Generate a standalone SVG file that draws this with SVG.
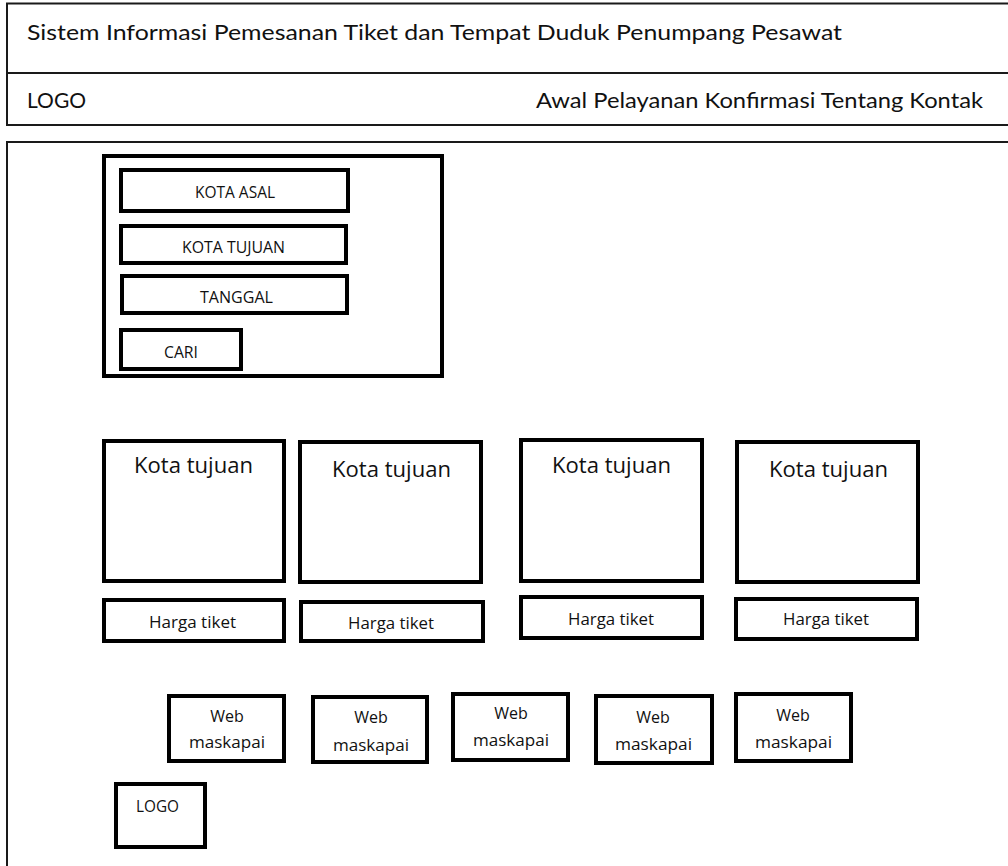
<svg xmlns="http://www.w3.org/2000/svg" width="1008" height="866" viewBox="0 0 1008 866">
  <style>
    .frame { fill: #fff; stroke: #1a1a1a; stroke-width: 2; }
    .box { fill: #fff; stroke: #000; stroke-width: 4; }
    .hdr { font-family: Lato, "Liberation Sans", sans-serif; font-size: 21px; fill: #111; }
    .lbl { font-family: "Open Sans", "Liberation Sans", sans-serif; fill: #111; }
    .small { font-size: 15.5px; }
    .mid { font-size: 16px; }
    .big { font-size: 21px; }
  </style>
  <rect width="1008" height="866" fill="#fff"/>

  <!-- page header -->
  <g id="header">
    <rect class="frame" x="7" y="3.5" width="1010" height="69.5"/>
    <rect class="frame" x="7" y="73" width="1010" height="52"/>
    <text class="hdr" x="27" y="40" textLength="815" lengthAdjust="spacingAndGlyphs">Sistem Informasi Pemesanan Tiket dan Tempat Duduk Penumpang Pesawat</text>
    <text class="hdr" x="27" y="108">LOGO</text>
    <text class="hdr" x="536" y="108" textLength="447" lengthAdjust="spacingAndGlyphs">Awal Pelayanan Konfirmasi Tentang Kontak</text>
  </g>

  <!-- main content frame -->
  <g id="content">
    <rect class="frame" x="7" y="142" width="1010" height="740"/>
  </g>

  <!-- search form -->
  <g id="search-form">
    <rect class="box" x="104" y="156" width="338" height="220"/>
  </g>
  <g id="kota-asal">
    <rect class="box" x="121" y="170" width="227" height="41"/>
    <text class="lbl small" x="195" y="198" textLength="80" lengthAdjust="spacingAndGlyphs">KOTA ASAL</text>
  </g>
  <g id="kota-tujuan">
    <rect class="box" x="121" y="226" width="225" height="37"/>
    <text class="lbl small" x="182" y="253" textLength="103" lengthAdjust="spacingAndGlyphs">KOTA TUJUAN</text>
  </g>
  <g id="tanggal">
    <rect class="box" x="122" y="276" width="225" height="37"/>
    <text class="lbl small" x="200" y="303" textLength="73" lengthAdjust="spacingAndGlyphs">TANGGAL</text>
  </g>
  <g id="cari">
    <rect class="box" x="121" y="330" width="120" height="39"/>
    <text class="lbl small" x="164" y="358" textLength="34" lengthAdjust="spacingAndGlyphs">CARI</text>
  </g>

  <!-- destination cards -->
  <g id="tujuan-1">
    <rect class="box" x="104" y="441" width="180" height="140"/>
    <text class="lbl big" x="134" y="473" textLength="119" lengthAdjust="spacingAndGlyphs">Kota tujuan</text>
  </g>
  <g id="tujuan-2">
    <rect class="box" x="300" y="442" width="181" height="140"/>
    <text class="lbl big" x="332" y="477" textLength="119" lengthAdjust="spacingAndGlyphs">Kota tujuan</text>
  </g>
  <g id="tujuan-3">
    <rect class="box" x="521" y="440" width="181" height="141"/>
    <text class="lbl big" x="552" y="473" textLength="119" lengthAdjust="spacingAndGlyphs">Kota tujuan</text>
  </g>
  <g id="tujuan-4">
    <rect class="box" x="737" y="442" width="181" height="140"/>
    <text class="lbl big" x="769" y="477" textLength="119" lengthAdjust="spacingAndGlyphs">Kota tujuan</text>
  </g>

  <!-- ticket prices -->
  <g id="harga-1">
    <rect class="box" x="104" y="600" width="180" height="41"/>
    <text class="lbl mid" x="149" y="628" textLength="87" lengthAdjust="spacingAndGlyphs">Harga tiket</text>
  </g>
  <g id="harga-2">
    <rect class="box" x="301" y="602" width="182" height="39"/>
    <text class="lbl mid" x="348" y="629" textLength="86" lengthAdjust="spacingAndGlyphs">Harga tiket</text>
  </g>
  <g id="harga-3">
    <rect class="box" x="521" y="597" width="181" height="41"/>
    <text class="lbl mid" x="568" y="625" textLength="86" lengthAdjust="spacingAndGlyphs">Harga tiket</text>
  </g>
  <g id="harga-4">
    <rect class="box" x="736" y="599" width="181" height="40"/>
    <text class="lbl mid" x="783" y="625" textLength="86" lengthAdjust="spacingAndGlyphs">Harga tiket</text>
  </g>

  <!-- airline links -->
  <g id="web-1">
    <rect class="box" x="169" y="696" width="115" height="65"/>
    <text class="lbl mid" x="227" y="722" text-anchor="middle">Web</text>
    <text class="lbl mid" x="189" y="748" textLength="76" lengthAdjust="spacingAndGlyphs">maskapai</text>
  </g>
  <g id="web-2">
    <rect class="box" x="313" y="697" width="114" height="65"/>
    <text class="lbl mid" x="371" y="723" text-anchor="middle">Web</text>
    <text class="lbl mid" x="333" y="751" textLength="76" lengthAdjust="spacingAndGlyphs">maskapai</text>
  </g>
  <g id="web-3">
    <rect class="box" x="453" y="694" width="115" height="66"/>
    <text class="lbl mid" x="511" y="719" text-anchor="middle">Web</text>
    <text class="lbl mid" x="473" y="746" textLength="76" lengthAdjust="spacingAndGlyphs">maskapai</text>
  </g>
  <g id="web-4">
    <rect class="box" x="596" y="696" width="116" height="67"/>
    <text class="lbl mid" x="653" y="723" text-anchor="middle">Web</text>
    <text class="lbl mid" x="615" y="750" textLength="77" lengthAdjust="spacingAndGlyphs">maskapai</text>
  </g>
  <g id="web-5">
    <rect class="box" x="736" y="694" width="115" height="67"/>
    <text class="lbl mid" x="793" y="721" text-anchor="middle">Web</text>
    <text class="lbl mid" x="755" y="748" textLength="77" lengthAdjust="spacingAndGlyphs">maskapai</text>
  </g>

  <!-- footer logo -->
  <g id="logo-footer">
    <rect class="box" x="116" y="784" width="89" height="63"/>
    <text class="lbl mid" x="136" y="812" textLength="43" lengthAdjust="spacingAndGlyphs">LOGO</text>
  </g>

  <g id="connectors"/>
</svg>
